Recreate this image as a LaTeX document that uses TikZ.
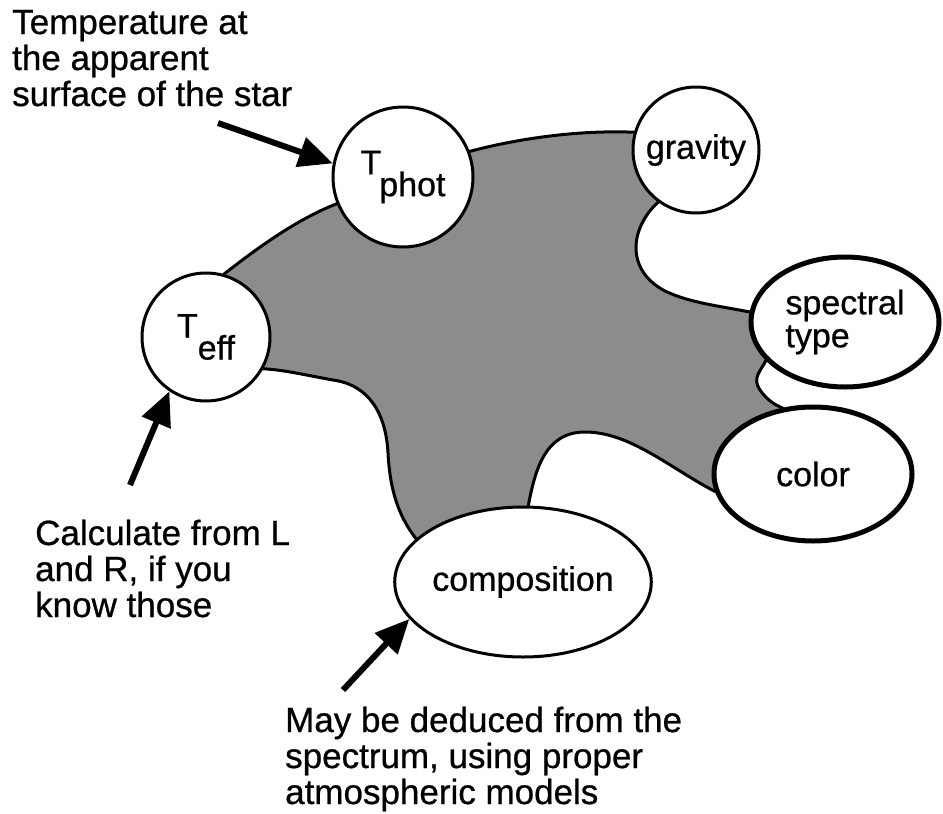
\documentclass[tikz,border=0pt]{standalone}
\usepackage{fontspec}
\setmainfont{Liberation Sans}
\newfontfamily\heavy{Liberation Sans}[FakeBold=0.7]
\usetikzlibrary{arrows.meta,shapes.geometric,backgrounds}
\begin{document}
\begin{tikzpicture}[x=1pt,y=-1pt,
  lbl/.style={font=\heavy\fontsize{35}{36}\selectfont, align=left, inner sep=0pt, anchor=base west},
  nodetext/.style={font=\heavy\fontsize{34}{33}\selectfont},
  thinnode/.style={circle, draw, line width=3pt, fill=white, inner sep=0pt, nodetext},
  thickoval/.style={ellipse, draw, line width=5pt, fill=white, inner sep=0pt, nodetext, align=left},
  thinoval/.style={ellipse, draw, line width=3pt, fill=white, inner sep=0pt, nodetext},
  pointer/.style={line width=6pt, -{Triangle[length=34pt,width=30pt]}},
  blob/.style={line width=3pt, line join=round, fill=black!45, draw=black},
]
\useasboundingbox (0,0) rectangle (943,814);

\node[thinnode, minimum size=140pt] (tphot) at (403,177) {T\kern-2pt\raisebox{-22pt}{phot}};
\node[thinnode, minimum size=128pt] (teff) at (206,337) {T\raisebox{-22pt}{eff}};
\node[thinnode, minimum size=126pt] (grav) at (696,150) {gravity};
\node[thickoval, minimum width=188pt, minimum height=130pt] (spec) at (845,322) {spectral\\type};
\node[thickoval, minimum width=198pt, minimum height=134pt] (color) at (813,474) {color};
\node[thinoval, minimum width=234pt, minimum height=150pt] (comp) at (523,582) {composition};

\begin{scope}[on background layer]
\path[blob]
 (teff.74) .. controls (255,250) and (295,220) .. (tphot.202)
 -- (tphot.center) -- (tphot.21)
 .. controls (520,138) and (580,130) .. (grav.164)
 -- (grav.center) -- (grav.234)
 .. controls (630,228) and (625,270) .. (665,291) .. controls (690,303) and (720,306) .. (spec.174)
 -- (spec.center) -- (spec.206)
 .. controls (760,372) and (752,378) .. (760,390) .. controls (767,400) and (775,405) .. (color.115)
 -- (color.center) -- (color.190)
 .. controls (670,468) and (630,432) .. (585,432) .. controls (545,432) and (535,470) .. (comp.86)
 -- (comp.center) -- (comp.158)
 .. controls (398,515) and (390,490) .. (388,453) .. controls (386,415) and (370,385) .. (333,380) .. controls (305,375) and (285,370) .. (teff.331)
 -- (teff.center) -- cycle;
\end{scope}

\coordinate (a1) at (218,123);
\coordinate (a2) at (130,485);
\coordinate (a3) at (343,690);
\draw[pointer] (a1) -- (tphot.169);
\draw[pointer] (a2) -- (teff.236);
\draw[pointer] (a3) -- (comp.198);

\node[lbl] (l1) at (12,106) {Temperature at\\the apparent\\surface of the star};
\node[lbl] (l2) at (35,617) {Calculate from L\\and R, if you\\know those};
\node[lbl] (l3) at (285,804) {May be deduced from the\\spectrum, using proper\\atmospheric models};
\end{tikzpicture}
\end{document}
